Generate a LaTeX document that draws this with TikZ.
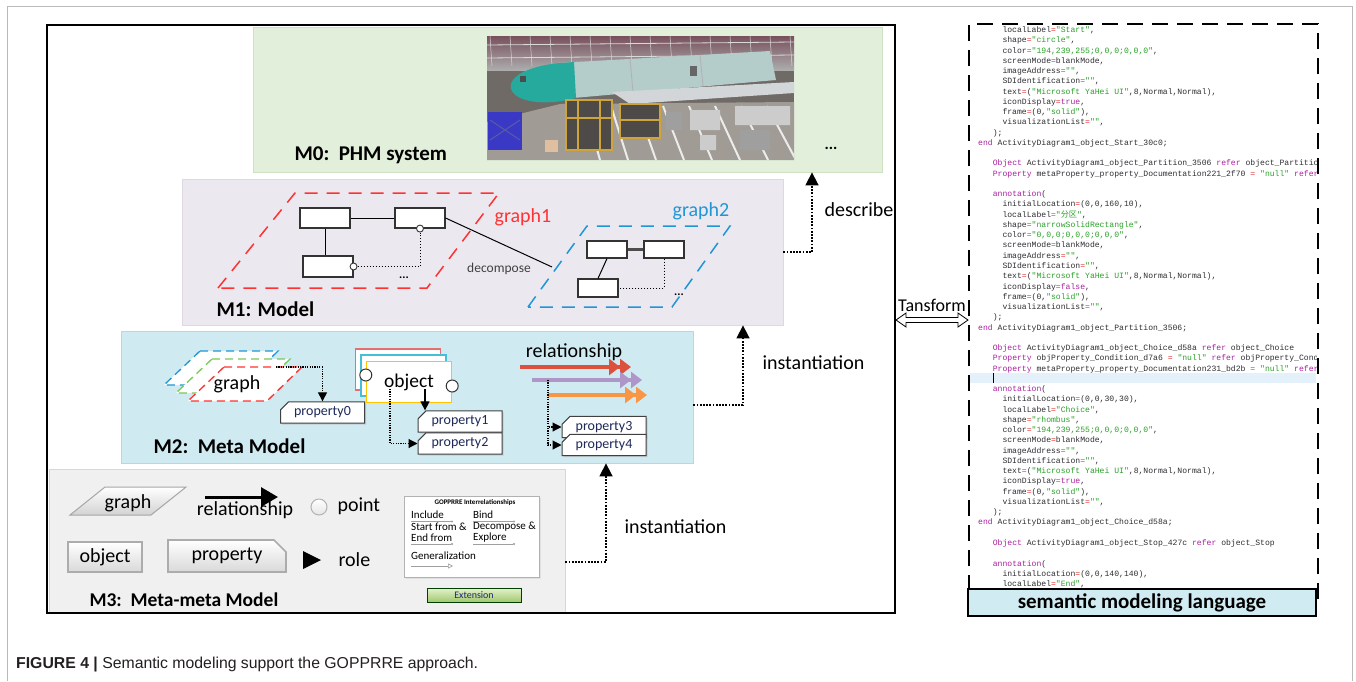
\documentclass[tikz,border=0pt]{standalone}
\usepackage{fontspec}
\setmainfont{Carlito}
\newfontfamily\codefont{Liberation Mono}
\newfontfamily\capfont{Liberation Sans}
\newfontfamily\cjk{Noto Sans CJK SC}
\usetikzlibrary{arrows.meta,shapes.misc,shadows}
\definecolor{mzero}{RGB}{226,239,218}
\definecolor{mzeroline}{RGB}{208,226,196}
\definecolor{mone}{RGB}{236,232,240}
\definecolor{moneline}{RGB}{222,216,228}
\definecolor{mtwo}{RGB}{207,234,241}
\definecolor{mtwoline}{RGB}{175,218,230}
\definecolor{mthree}{RGB}{240,240,240}
\definecolor{mthreeline}{RGB}{215,215,215}
\definecolor{gred}{RGB}{255,50,50}
\definecolor{gblue}{RGB}{30,150,215}
\definecolor{ggreen}{RGB}{120,200,90}
\definecolor{ored}{RGB}{230,110,110}
\definecolor{ocyan}{RGB}{70,190,215}
\definecolor{oyellow}{RGB}{255,195,0}
\definecolor{rred}{RGB}{220,80,60}
\definecolor{rpurple}{RGB}{175,150,200}
\definecolor{rorange}{RGB}{248,150,70}
\definecolor{propc}{RGB}{30,40,90}
\definecolor{kwc}{RGB}{170,30,160}
\definecolor{strc}{RGB}{40,160,40}
\definecolor{eqc}{RGB}{225,50,50}
\definecolor{codec}{RGB}{45,45,50}
\definecolor{curline}{RGB}{228,240,250}
\definecolor{smlfill}{RGB}{208,236,242}
\definecolor{capc}{RGB}{35,31,32}
\definecolor{extc}{RGB}{30,40,110}
\definecolor{phceil}{RGB}{120,80,92}
\definecolor{phbg}{RGB}{112,106,102}
\definecolor{phfloor}{RGB}{160,155,148}
\definecolor{phfuse}{RGB}{180,204,202}
\definecolor{phnose}{RGB}{38,170,158}
\definecolor{phwing}{RGB}{210,214,216}
\definecolor{phscaf}{RGB}{205,165,60}
\newcommand\kw[1]{\textcolor{kwc}{#1}}
\newcommand\strg[1]{\textcolor{strc}{"#1"}}
\newcommand\eqs{\textcolor{eqc}{=}}
\newcommand\indA{\hspace*{14.6pt}}
\newcommand\indB{\hspace*{24.3pt}}
\newcommand\fs[1]{\fontsize{#1}{#1}\selectfont}
\begin{document}
\begin{tikzpicture}[x=1pt,y=-1pt,>={Triangle[length=13pt,width=13pt]},
	region/.style={rectangle,inner sep=0,line width=0.8pt},
	mlabel/.style={anchor=west,font=\bfseries\fs{21}},
	word/.style={font=\fs{20}},
	smallbox/.style={draw=black!80,fill=white,line width=1.1pt,inner sep=0},
	port/.style={circle,draw=black!80,fill=white,line width=0.9pt,inner sep=0,minimum size=7pt},
	pt/.style={circle,draw=black!80,fill=white,line width=1pt,inner sep=0,minimum size=12pt},
	card/.style={rectangle,fill=white,line width=1.4pt,minimum width=85pt,minimum height=41pt,inner sep=0,font=\fs{19.5}},
	flowline/.style={line width=1.6pt,dash pattern=on 1.8pt off 1.4pt,->},
	roleline/.style={line width=1.1pt,dash pattern=on 1.2pt off 1.2pt,-{Triangle[length=9pt,width=9pt]}},
	propbox/.style={chamfered rectangle,chamfered rectangle corners=north west,chamfered rectangle sep=4pt,draw=black!75,fill=white,line width=1pt,inner sep=1pt,minimum width=84pt,minimum height=16pt,font=\fs{14},text=propc,drop shadow={shadow xshift=1.5pt,shadow yshift=-1.5pt,fill=gray!60}},
	bevel/.style={draw=gray!65,line width=1.6pt,top color=white,bottom color=gray!30,inner sep=0,font=\fs{20}},
	code/.style={anchor=base west,inner sep=0,text=codec,font={\codefont\fs{8.1}}}]
\useasboundingbox (0,0) rectangle (1356,681);
\draw[gray!55,line width=1pt] (7,681) -- (7,6) -- (1352,6) -- (1352,681);
% levels
\node[region,fill=mzero,draw=mzeroline,minimum width=629pt,minimum height=145pt] (m0) at (567.5,99.5) {};
\node[region,fill=mone,draw=moneline,minimum width=601pt,minimum height=146pt] (m1) at (482.5,252) {};
\node[region,fill=mtwo,draw=mtwoline,minimum width=572pt,minimum height=132pt] (m2) at (407,397) {};
\node[region,fill=mthree,draw=mthreeline,minimum width=516pt,minimum height=144pt] (m3) at (307,541) {};
\node[draw,line width=2.2pt,minimum width=848pt,minimum height=588pt,inner sep=0] (frame) at (471,319) {};
% M0
\begin{scope}
\clip (487,36) rectangle (794,160);
\fill[phbg] (487,36) rectangle (794,160);
\shade[top color=phceil,bottom color=gray!65] (487,36) rectangle (794,70);
\foreach \k in {0,...,15} \draw[white!70!gray,line width=0.5pt] ({490+\k*20},36) -- ({492+\k*20},66);
\draw[white!70!gray,line width=0.8pt] (487,45) -- (794,42) (487,58) -- (794,55);
\fill[phfloor] (487,160) -- (487,122) -- (560,104) -- (794,102) -- (794,160) -- cycle;
\foreach \k in {0,...,7} \draw[white!85!gray,line width=2pt] ({600+\k*28},160) -- ({585+\k*26},106);
\fill[phfuse] (558,63) -- (770,51) -- (776,80) -- (562,99) -- cycle;
\fill[phnose] (560,63) -- (574,62) -- (576,98) -- (562,101) .. controls (500,110) and (488,70) .. (560,63);
\fill[black!70] (520,76) rectangle (526,82);
\draw[gray!60,line width=0.8pt] (630,59) -- (633,92) (700,55) -- (703,86);
\fill[black!60] (690,66) rectangle (697,76);
\fill[phwing] (612,92) -- (794,82) -- (794,93) -- (630,104) -- cycle;
\fill[phbg!70!black] (566,100) rectangle (612,150) (620,104) rectangle (660,138);
\draw[phscaf,line width=1.6pt] (566,100) rectangle (612,150) (620,104) rectangle (660,138) (566,118) -- (612,118) (620,120) -- (660,120) (578,100) -- (578,150) (600,100) -- (600,150);
\fill[blue!55!gray] (488,112) rectangle (522,150);
\draw[blue!30!gray,line width=1pt] (490,120) -- (520,140) (490,140) -- (520,120);
\fill[brown!50!white] (545,140) rectangle (558,152);
\fill[gray!40] (690,110) rectangle (720,130) (735,106) rectangle (790,125) (700,135) rectangle (716,150);
\fill[gray!75] (740,130) rectangle (770,150) (666,112) rectangle (682,130);
\end{scope}
\node[mlabel] (m0lab) at (291,155) {M0:\ \ PHM system};
\node[font=\bfseries\fs{16}] (m0dots) at (831,148) {...};
% M1
\draw[gred,line width=1.5pt,dash pattern=on 13pt off 9pt] (218,288) -- (295,193) -- (499,193) -- (427,288) -- cycle;
\node[font=\fs{20},text=gred] (g1lab) at (523,217) {graph1};
\node[smallbox,minimum width=50pt,minimum height=20pt] (g1a) at (325,218) {};
\node[smallbox,minimum width=50pt,minimum height=20pt] (g1b) at (420,218) {};
\node[smallbox,minimum width=50pt,minimum height=21pt] (g1c) at (328,266.5) {};
\draw[line width=1pt] (g1a) -- (g1b);
\draw[line width=1pt] (g1a.south) -- (g1a.south |- g1c.north);
\node[port] (c1) at (g1b.south) {};
\node[port] (c2) at (g1c.east) {};
\draw[dotted,line width=1pt] (c2) -| (c1);
\node[font=\bfseries\fs{12}] (g1dots) at (404,278) {...};
\coordinate (dc) at (552,267);
\draw[line width=1pt] (g1b.east) -- (dc);
\node[font=\fs{13.5},text=black!75] (dec) at (499,269) {decompose};
\draw[gblue,line width=1.5pt,dash pattern=on 13pt off 9pt] (528,307) -- (587,226) -- (730,226) -- (672,307) -- cycle;
\node[font=\fs{20},text=gblue] (g2lab) at (701,211) {graph2};
\node[smallbox,minimum width=40pt,minimum height=17pt] (g2a) at (607,249.5) {};
\node[smallbox,minimum width=40pt,minimum height=17pt] (g2b) at (664,249.5) {};
\node[smallbox,minimum width=40pt,minimum height=18pt] (g2c) at (598,288) {};
\draw[line width=2.2pt,black!70] (g2a) -- (g2b);
\draw[line width=1pt] (g2a.south) -- (g2c.north);
\draw[dotted,line width=1pt] (g2b.south) |- (g2c.east);
\node[font=\bfseries\fs{12}] (g2dots) at (679,295) {...};
\node[mlabel] (m1lab) at (213,309) {M1: Model};
% level arrows
\coordinate (xd) at (812,0);
\draw[flowline] (m1.east) -| (m0.south -| xd);
\node[word,anchor=west] (dsc) at (821,210) {describe};
\coordinate (xi) at (743,0);
\draw[flowline] ([yshift=-8pt]m2.east) -| (m1.south -| xi);
\node[word,anchor=west] (ins1) at (759,363) {instantiation};
\coordinate (xj) at (606,0);
\draw[flowline] ([yshift=-21pt]m3.east) -| (m2.south -| xj);
\node[word,anchor=west] (ins2) at (621,527) {instantiation};
% M2
\foreach \c/\d in {gblue/0,ggreen/12,gred/24}
	\draw[\c,fill=white,line width=1.3pt,dash pattern=on 8pt off 5pt] ({200+\d},{351+\d*2/3}) -- ({278+\d},{351+\d*2/3}) -- ({243+\d},{385+\d*2/3}) -- ({164+\d},{385+\d*2/3}) -- cycle;
\node[word] (gr) at (237,384) {graph};
\node[propbox] (p0) at (322.5,412.5) {property0};
\node[propbox] (p1) at (460,421.5) {property1};
\node[propbox] (p2) at (460,443.5) {property2};
\node[propbox] (p3) at (604,427) {property3};
\node[propbox] (p4) at (604,445) {property4};
\coordinate (gtop) at (276,367);
\draw[roleline] (gtop) -| (p0.north);
\node[card,draw=ored] (ob3) at (398,369.5) {};
\node[card,draw=ocyan] (ob2) at (403.5,375.5) {};
\node[card,draw=oyellow] (ob1) at (409,382) {object};
\node[pt] (oc1) at (ob1.west |- 0,375) {};
\node[pt] (oc2) at (ob1.east |- 0,386) {};
\coordinate (oa) at (425,389);
\draw[line width=1.1pt,-{Triangle[length=9pt,width=9pt]}] (oa) -- (oa |- p1.north);
\coordinate (ob) at (390,389);
\draw[roleline] (ob) |- (p2.west);
\node[word] (rel) at (574,352) {relationship};
\foreach \c/\y/\a/\b in {rred/367/520/631,rpurple/380/532/642,rorange/395/548/647}
	\draw[\c,line width=3.5pt,-{Triangle[length=11pt,width=16pt]Triangle[length=11pt,width=16pt]}] (\a,\y) -- (\b,\y);
\coordinate (rp) at (548,380);
\draw[roleline] (rp) |- (p3.west);
\draw[roleline] (rp) |- (p4.west);
\node[mlabel] (m2lab) at (150,446) {M2:\ \ Meta Model};
% M3
\shadedraw[top color=white,bottom color=gray!35,draw=gray!70,line width=1pt] (70,515) -- (105,487) -- (186,487) -- (151,515) -- cycle;
\node[word] (mg) at (128,503) {graph};
\draw[line width=3pt,-{Triangle[length=17pt,width=19pt]}] (205,497) -- (278,497);
\node[word] (mrel) at (245,510) {relationship};
\node[circle,draw=gray!60,line width=1pt,inner sep=0,minimum size=16pt,top color=white,bottom color=gray!20] (mpt) at (319,507) {};
\node[word,anchor=west] (mptl) at (334,506) {point};
\node[bevel,minimum width=74pt,minimum height=30pt] (mob) at (105,557) {object};
\node[bevel,chamfered rectangle,chamfered rectangle corners=north east,chamfered rectangle sep=6pt,minimum width=118pt,minimum height=32pt] (mpr) at (227,556) {property};
\fill (303,551) -- (321,560) -- (303,569) -- cycle;
\node[word,anchor=west] (mrole) at (335,560) {role};
\node[chamfered rectangle,chamfered rectangle corners=north west,chamfered rectangle sep=14pt,draw=gray!60,fill=white,line width=1pt,minimum width=135pt,minimum height=81pt,inner sep=0,drop shadow={shadow xshift=1.5pt,shadow yshift=-1.5pt,fill=gray!50}] (gop) at (471.5,536.5) {};
\node[font=\bfseries\fs{7}] (gopt) at (475,503) {GOPPRRE Interrelationships};
\foreach \t/\x/\y [count=\k] in {Include/411/515,Bind/473/515,Start from \&/411/527,Decompose \&/473/527,End from/411/538,Explore/473/538,Generalization/411/556}
	\node[anchor=west,inner sep=0,font=\fs{11}] (gi\k) at (\x,\y) {\t};
\foreach \x/\y in {411/521.5,473/521.5,411/544,473/544}
	\draw[gray!75,line width=0.6pt,-{Circle[length=2pt]}] (\x,\y) -- ++(42,0);
\draw[gray!75,line width=0.6pt,-{Triangle[open,length=5pt,width=5pt]}] (411,566) -- (453,566);
\node[draw=green!25!black,line width=0.8pt,top color={rgb,255:red,228;green,242;blue,205},bottom color={rgb,255:red,160;green,200;blue,110},minimum width=94pt,minimum height=14pt,inner sep=0,font=\fs{10},text=extc] (ext) at (474,595) {Extension};
\node[mlabel,font=\bfseries\fs{19.5}] (m3lab) at (86,600) {M3:\ \ Meta-meta Model};
% transform
\node[font=\fs{18}] (tf) at (932,305) {Tansform};
\draw[fill=white,line width=0.8pt] (896,320) -- (906,313) -- (906,317.5) -- (958,317.5) -- (958,313) -- (968,320) -- (958,327) -- (958,322.5) -- (906,322.5) -- (906,327) -- cycle;
% code panel
\node[draw,line width=2pt,dash pattern=on 16pt off 9pt,minimum width=349pt,minimum height=576pt,inner sep=0] (panel) at (1143.5,312) {};
\fill[curline] (970,373) rectangle (1316,383);
\begin{scope}
\clip (970,25) rectangle (1316,588);
\foreach \codeln [count=\i] in {
	{\indB localLabel\eqs\strg{Start},},
	{\indB shape\eqs\strg{circle},},
	{\indB color\eqs\strg{194,239,255;0,0,0;0,0,0},},
	{\indB screenMode\eqs blankMode,},
	{\indB imageAddress\eqs\strg{},},
	{\indB SDIdentification\eqs\strg{},},
	{\indB text\eqs(\strg{Microsoft YaHei UI},8,Normal,Normal),},
	{\indB iconDisplay\eqs\kw{true},},
	{\indB frame\eqs(0,\strg{solid}),},
	{\indB visualizationList\eqs\strg{},},
	{\indA);},
	{\kw{end} ActivityDiagram1\_object\_Start\_30c0;},
	{},
	{\indA\kw{Object} ActivityDiagram1\_object\_Partition\_3506 \kw{refer} object\_Partitio},
	{\indA\kw{Property} metaProperty\_property\_Documentation221\_2f70 \eqs{} \strg{null} \kw{refer}},
	{},
	{\indA\kw{annotation}(},
	{\indB initialLocation\eqs(0,0,160,10),},
	{\indB localLabel\eqs\strg{{\cjk 分区}},},
	{\indB shape\eqs\strg{narrowSolidRectangle},},
	{\indB color\eqs\strg{0,0,0;0,0,0;0,0,0},},
	{\indB screenMode\eqs blankMode,},
	{\indB imageAddress\eqs\strg{},},
	{\indB SDIdentification\eqs\strg{},},
	{\indB text\eqs(\strg{Microsoft YaHei UI},8,Normal,Normal),},
	{\indB iconDisplay\eqs\kw{false},},
	{\indB frame\eqs(0,\strg{solid}),},
	{\indB visualizationList\eqs\strg{},},
	{\indA);},
	{\kw{end} ActivityDiagram1\_object\_Partition\_3506;},
	{},
	{\indA\kw{Object} ActivityDiagram1\_object\_Choice\_d58a \kw{refer} object\_Choice},
	{\indA\kw{Property} objProperty\_Condition\_d7a6 \eqs{} \strg{null} \kw{refer} objProperty\_Condi},
	{\indA\kw{Property} metaProperty\_property\_Documentation231\_bd2b \eqs{} \strg{null} \kw{refer}},
	{},
	{\indA\kw{annotation}(},
	{\indB initialLocation\eqs(0,0,30,30),},
	{\indB localLabel\eqs\strg{Choice},},
	{\indB shape\eqs\strg{rhombus},},
	{\indB color\eqs\strg{194,239,255;0,0,0;0,0,0},},
	{\indB screenMode\eqs blankMode,},
	{\indB imageAddress\eqs\strg{},},
	{\indB SDIdentification\eqs\strg{},},
	{\indB text\eqs(\strg{Microsoft YaHei UI},8,Normal,Normal),},
	{\indB iconDisplay\eqs\kw{true},},
	{\indB frame\eqs(0,\strg{solid}),},
	{\indB visualizationList\eqs\strg{},},
	{\indA);},
	{\kw{end} ActivityDiagram1\_object\_Choice\_d58a;},
	{},
	{\indA\kw{Object} ActivityDiagram1\_object\_Stop\_427c \kw{refer} object\_Stop},
	{},
	{\indA\kw{annotation}(},
	{\indB initialLocation\eqs(0,0,140,140),},
	{\indB localLabel\eqs\strg{End},}}
	\node[code] (cl\i) at (978,{32.5+10.26*(\i-1)}) {\codeln};
\end{scope}
\draw[line width=1pt] (993,373) -- (993,383);
\node[draw,line width=2pt,fill=smlfill,minimum width=348pt,minimum height=27pt,inner sep=0,font=\bfseries\fs{21}] (sml) at (1142,602.5) {semantic modeling language};
% caption
\node[anchor=base west,inner sep=0,font=\capfont\fs{15.8},text=capc] (cap) at (16,668) {\textbf{FIGURE 4 |} Semantic modeling support the GOPPRRE approach.};
\end{tikzpicture}
\end{document}
